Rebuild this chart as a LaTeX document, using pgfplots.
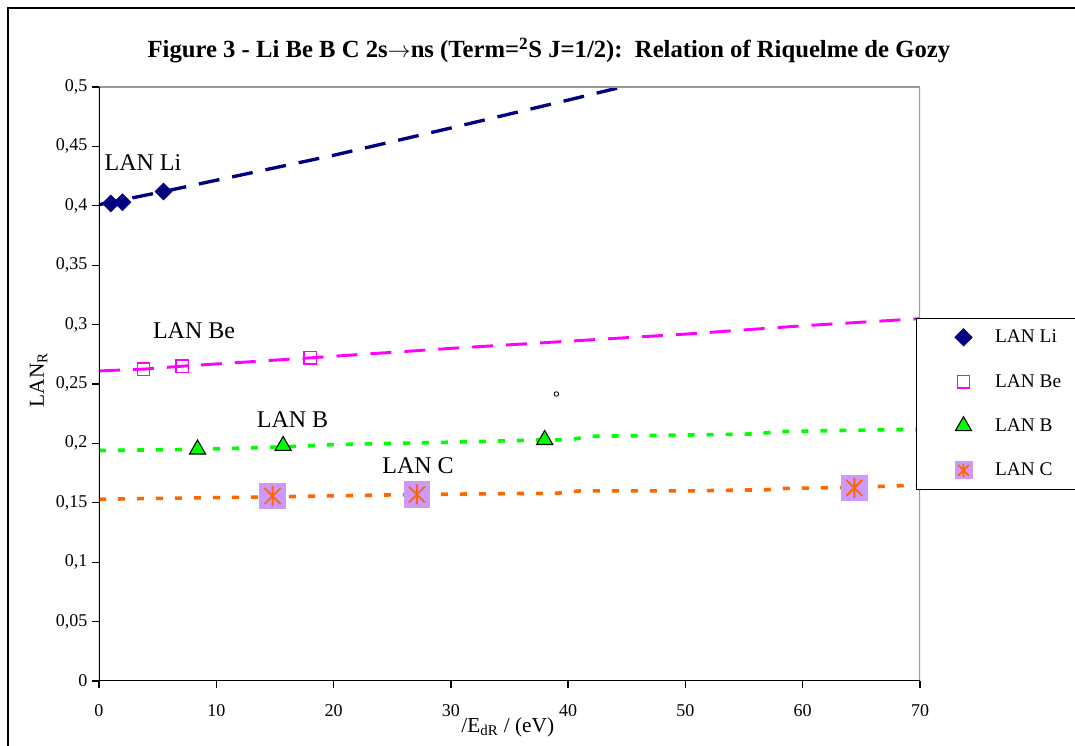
\documentclass[border=0pt]{standalone}
\usepackage{fontspec}
\setmainfont{Liberation Serif}
\usepackage{pgfplots}
\pgfplotsset{compat=1.18}

\definecolor{cnavy}{HTML}{000080}
\definecolor{cmag}{HTML}{FF00FF}
\definecolor{cgreen}{HTML}{00FF00}
\definecolor{corange}{HTML}{FF6600}
\definecolor{cpurple}{HTML}{CC99FF}
\definecolor{cframe}{HTML}{999999}

% purple square with an orange six-arm star (Excel style)
\pgfdeclareplotmark{sqstar}{%
  \pgfsetfillcolor{cpurple}%
  \pgfpathrectangle{\pgfpoint{-\pgfplotmarksize}{-\pgfplotmarksize}}{\pgfpoint{2\pgfplotmarksize}{2\pgfplotmarksize}}%
  \pgfusepath{fill}%
  \pgfsetstrokecolor{corange}%
  \pgfsetlinewidth{1.4pt}%
  \pgfpathmoveto{\pgfpoint{0pt}{0.75\pgfplotmarksize}}%
  \pgfpathlineto{\pgfpoint{0pt}{-0.75\pgfplotmarksize}}%
  \pgfpathmoveto{\pgfpoint{-0.6\pgfplotmarksize}{0.6\pgfplotmarksize}}%
  \pgfpathlineto{\pgfpoint{0.6\pgfplotmarksize}{-0.6\pgfplotmarksize}}%
  \pgfpathmoveto{\pgfpoint{-0.6\pgfplotmarksize}{-0.6\pgfplotmarksize}}%
  \pgfpathlineto{\pgfpoint{0.6\pgfplotmarksize}{0.6\pgfplotmarksize}}%
  \pgfusepath{stroke}%
}

\begin{document}
\begin{tikzpicture}
\begin{axis}[
    scale only axis,
    width=615.75pt, height=445.5pt,
    xmin=0, xmax=70, ymin=0, ymax=0.5,
    xtick={0,10,...,70},
    ytick={0,0.05,...,0.5},
    tick pos=left,
    tick align=outside,
    major tick length=5.25pt,
    tick style={black, line width=1pt},
    axis line style={draw=none},
    ticklabel style={font=\fontsize{13.5}{15}\selectfont},
    xticklabel style={yshift=-9pt},
    /pgf/number format/assume math mode=true,
    yticklabel style={/pgf/number format/.cd, use comma, fixed, precision=2},
    title={\textbf{Figure 3 - Li Be B C 2s$\rightarrow$ns (Term=\textsuperscript{2}S J=1/2):\ \ Relation of Riquelme de Gozy}},
    title style={at={(axis description cs:0.548,1.0354)}, anchor=base, font=\fontsize{18.5}{20}\selectfont},
    xlabel={/E\textsubscript{dR} / (eV)},
    xlabel style={at={(axis description cs:0.498,-0.078)}, anchor=center, font=\fontsize{16}{18}\selectfont},
    ylabel={LAN\textsubscript{R}},
    ylabel style={at={(axis description cs:-0.0735,0.507)}, anchor=center, font=\fontsize{16}{18}\selectfont},
    legend style={at={(axis description cs:0.9951,0.6111)}, anchor=north west,
      draw=black, line width=0.8pt, fill=white,
      font=\fontsize{14.5}{16}\selectfont,
      row sep=18.2pt, inner xsep=28.5pt, inner ysep=6.5pt,
      column sep=15pt},
    legend cell align=left,
    clip=true,
]
% markers
\addplot[only marks, mark=square*, mark size=4.5pt, mark options={rotate=45, fill=cnavy, draw=cnavy}]
  coordinates {(1.0,0.402) (2.0,0.403) (5.5,0.412)};
\addlegendentry{LAN Li}
\addplot[only marks, mark=square, mark size=4.6pt, mark options={draw=cmag, line width=1.1pt}]
  coordinates {(3.8,0.2625) (7.1,0.265) (18.0,0.272)};
\addlegendentry{LAN Be}
\addplot[only marks, mark=triangle*, mark size=7pt, mark options={fill=cgreen, draw=black, line width=0.8pt}]
  coordinates {(8.4,0.195) (15.7,0.198) (38.0,0.203)};
\addlegendentry{LAN B}
\addplot[only marks, mark=sqstar, mark size=10pt,
  legend image code/.code={\path[mark=sqstar, mark size=6.75pt] plot coordinates {(0.3cm,0cm)};}]
  coordinates {(14.8,0.1557) (27.1,0.157) (64.4,0.1625)};
\addlegendentry{LAN C}
% stray point
\addplot[only marks, mark=o, mark size=1.7pt, mark options={black, line width=0.6pt}, forget plot]
  coordinates {(39.0,0.2416)};
% trend lines
\addplot[cnavy, line width=2.5pt, dash pattern=on 15.75pt off 9.75pt, forget plot]
  coordinates {(0,0.401) (5.5,0.412) (10,0.4215) (15,0.432) (20,0.4425) (30,0.4655) (40,0.489) (45,0.501) (50,0.512)};
\addplot[cmag, line width=2.2pt, dash pattern=on 15.75pt off 9.75pt, forget plot]
  coordinates {(0,0.261) (3.8,0.2625) (7.1,0.265) (18,0.272) (30,0.280) (40,0.286) (50,0.292) (60,0.299) (70,0.305)};
\addplot[cgreen, line width=2.7pt, dash pattern=on 5.25pt off 9pt, forget plot]
  coordinates {(0,0.194) (8.4,0.195) (15.7,0.197) (20,0.199) (30,0.201) (38,0.203) (40,0.203) (42,0.206) (50,0.207) (56,0.208) (58,0.210) (70,0.212)};
\addplot[corange, line width=2.7pt, dash pattern=on 5.25pt off 9pt, forget plot]
  coordinates {(0,0.153) (14.8,0.155) (27.1,0.157) (38,0.158) (39,0.158) (41,0.160) (50,0.160) (57,0.161) (58,0.162) (64.4,0.163) (70,0.165)};
% point labels
\node[font=\fontsize{18}{20}\selectfont] at (axis cs:3.75,0.436) {LAN Li};
\node[font=\fontsize{18}{20}\selectfont] at (axis cs:8.1,0.2946) {LAN Be};
\node[font=\fontsize{18}{20}\selectfont] at (axis cs:16.5,0.2197) {LAN B};
\node[font=\fontsize{18}{20}\selectfont] at (axis cs:27.2,0.181) {LAN C};
% plot-area frame
\draw[cframe, line width=1.5pt] (rel axis cs:0,1) -- (rel axis cs:1,1) -- (rel axis cs:1,0);
\draw[black, line width=1.5pt] (rel axis cs:0,1) -- (rel axis cs:0,0) -- (rel axis cs:1,0);
\end{axis}
\draw[black, line width=0.8pt] (-68.25pt,-120pt) |- (900pt,504.75pt);
\pgfresetboundingbox
\path[use as bounding box] (-74.25pt,-48.75pt) rectangle (732pt,510.75pt);
\end{tikzpicture}
\end{document}
